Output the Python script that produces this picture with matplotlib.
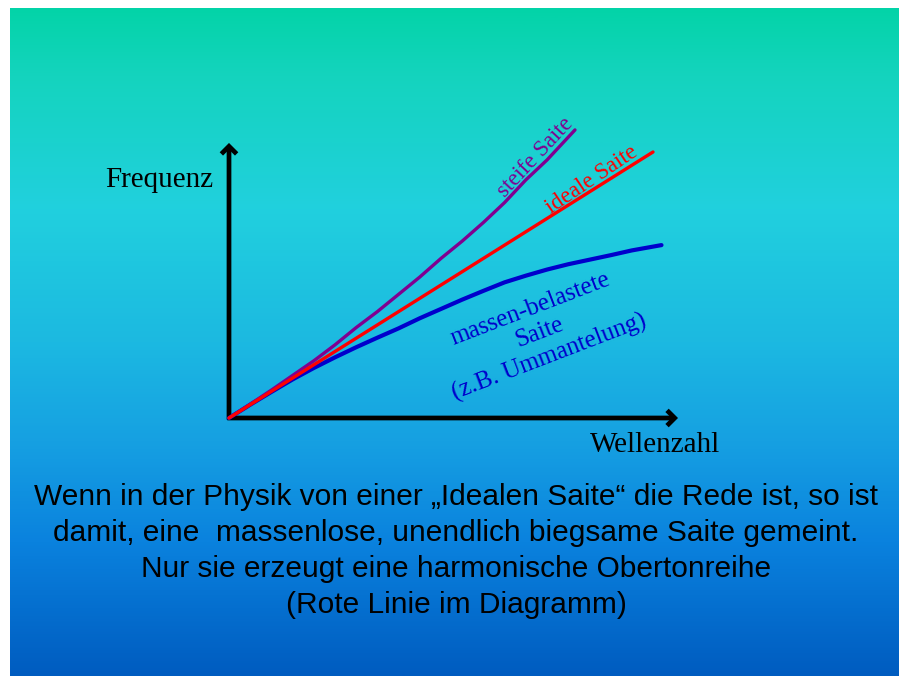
import numpy as np
import matplotlib
matplotlib.use("Agg")
import matplotlib.pyplot as plt
from matplotlib.colors import LinearSegmentedColormap

# ---- data ----
ideal_k = [0, 10]
ideal_f = [0, 10]

stiff_k = [0, 0.5, 1, 1.5, 2, 2.5, 3, 3.5, 4, 4.5, 5, 5.5, 6, 6.5, 7, 7.5, 8.16]
stiff_f = [0, 0.52, 1.05, 1.6, 2.15, 2.75, 3.4, 4.0, 4.65, 5.3, 6.0, 6.65, 7.35, 8.1, 8.95, 9.7, 10.83]

mass_k = [0, 0.5, 1, 1.5, 2, 2.5, 3, 3.5, 4, 4.5, 5, 5.5, 6, 6.5, 7, 7.5, 8, 8.5, 9, 9.5, 10.2]
mass_f = [0, 0.5, 0.98, 1.45, 1.88, 2.28, 2.66, 3.02, 3.37, 3.75, 4.1, 4.45, 4.78, 5.1, 5.35,
          5.58, 5.78, 5.95, 6.12, 6.3, 6.5]

x_label = "Wellenzahl"
y_label = "Frequenz"
label_stiff = "steife Saite"
label_ideal = "ideale Saite"
label_mass = "massen-belastete\nSaite\n(z.B. Ummantelung)"
caption = [
    "Wenn in der Physik von einer \u201eIdealen Saite\u201c die Rede ist, so ist",
    "damit, eine  massenlose, unendlich biegsame Saite gemeint.",
    "Nur sie erzeugt eine harmonische Obertonreihe",
    "(Rote Linie im Diagramm)",
]

W, H = 899, 676
fig = plt.figure(figsize=(W / 100, H / 100), dpi=100)
fig.patch.set_facecolor("white")

# background gradient panel
stops = [
    (0.0, (3, 211, 168)),
    (0.1, (20, 212, 190)),
    (0.3, (33, 208, 222)),
    (0.5, (28, 185, 225)),
    (0.65, (22, 160, 226)),
    (0.8, (10, 130, 222)),
    (1.0, (0, 92, 192)),
]
cmap = LinearSegmentedColormap.from_list(
    "bg", [(p, tuple(c / 255 for c in rgb)) for p, rgb in stops])
bg = fig.add_axes([10 / W, 0, (W - 10) / W, (H - 8) / H])
grad = np.linspace(0, 1, 512).reshape(-1, 1)
bg.imshow(grad, cmap=cmap, aspect="auto", extent=[0, 1, 0, 1], origin="upper")
bg.set_axis_off()

# data axes covering the whole figure
ox, oy = 229, 418          # origin in pixels
sx, sy = 42.4, 26.6        # pixels per unit
ax = fig.add_axes([0, 0, 1, 1])
ax.set_xlim(-ox / sx, (W - ox) / sx)
ax.set_ylim((oy - H) / sy, oy / sy)
ax.set_axis_off()
ax.patch.set_alpha(0)

# axes arrows
arrow_kw = dict(arrowstyle="->,head_length=0.55,head_width=0.55", lw=3.4,
                color="black", shrinkA=0, shrinkB=0, capstyle="butt",
                joinstyle="miter")
ax.annotate("", xy=(0, 10.34), xytext=(0, -0.06), arrowprops=arrow_kw)
ax.annotate("", xy=(10.59, 0), xytext=(-0.04, 0), arrowprops=arrow_kw)

# curves
ax.plot(mass_k, mass_f, color="#0000CC", lw=3.0, solid_capstyle="round",
        solid_joinstyle="round", zorder=3)
ax.plot(stiff_k, stiff_f, color="#800090", lw=2.4, solid_capstyle="round",
        solid_joinstyle="round", zorder=4)
ax.plot(ideal_k, ideal_f, color="#FF0000", lw=2.4, solid_capstyle="round", zorder=5)

serif = "Liberation Serif"
sans = "Liberation Sans"

def px(x, y):
    return ((x - ox) / sx, (oy - y) / sy)

ax.text(*px(159, 180), y_label, family=serif, fontsize=21, ha="center", va="center")
ax.text(*px(655, 445), x_label, family=serif, fontsize=21, ha="center", va="center")

ax.text(*px(535, 157), label_stiff, family=serif, fontsize=16.5, color="#800090",
        rotation=47, ha="center", va="center", rotation_mode="anchor")
ax.text(*px(592, 180), label_ideal, family=serif, fontsize=16.5, color="#FF0000",
        rotation=34, ha="center", va="center", rotation_mode="anchor")
ax.text(*px(540, 333), label_mass, family=serif, fontsize=18, color="#0000CC",
        rotation=21, ha="center", va="center", rotation_mode="anchor",
        multialignment="center", linespacing=1.2)

for i, line in enumerate(caption):
    ax.text(*px(456, 497 + i * 36), line, family=sans, fontsize=21.5,
            ha="center", va="center", color="black")

fig.savefig("out.png", dpi=100, facecolor=fig.get_facecolor())
